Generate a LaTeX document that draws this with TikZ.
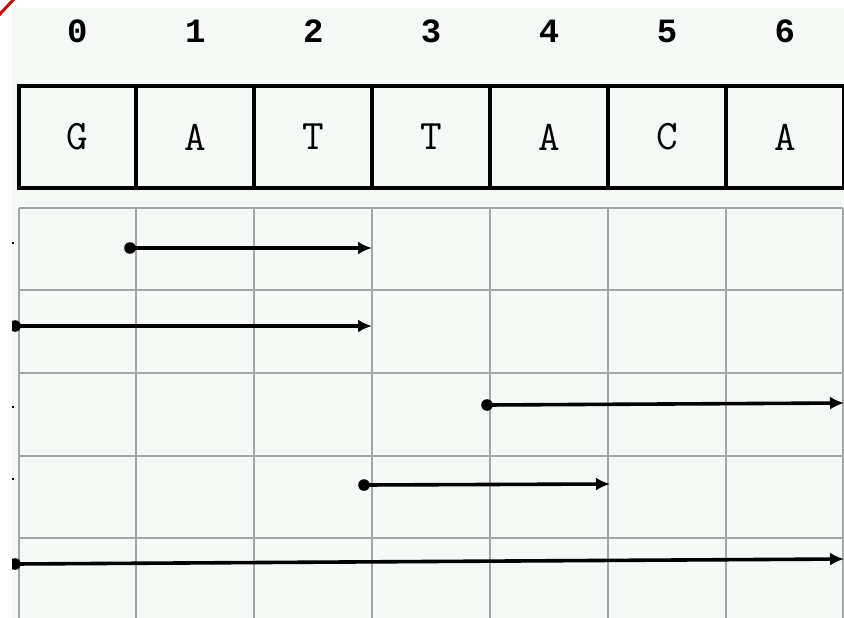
\documentclass[tikz,border=0pt]{standalone}
\usepackage{fontspec}
\newfontfamily\digitfont{Liberation Mono}
\usetikzlibrary{arrows.meta}
\definecolor{bg}{HTML}{F5FAF7}
\definecolor{gridgray}{HTML}{A4A6A5}
\definecolor{markred}{HTML}{C41010}
\begin{document}
\begin{tikzpicture}[x=1pt,y=-1pt,
  gridline/.style={draw=gridgray,line width=2pt},
  basebox/.style={draw=black,line width=4pt,minimum width=117.9pt,minimum height=102pt,inner sep=0pt,font=\ttfamily\fontsize{42}{42}\selectfont},
  idxlabel/.style={inner sep=0pt,font=\digitfont\bfseries\fontsize{34}{34}\selectfont},
  interval/.style={draw=black,line width=3.6pt,-{Latex[length=14pt,width=13pt]}},
  startdot/.style={fill=black}
]
\useasboundingbox (0,0) rectangle (844,618);
\fill[white] (0,0) rectangle (844,618);
\begin{scope}
\clip (12,8) rectangle (844,618);
\fill[bg] (12,8) rectangle (844,618);
% lower grid
\foreach \x in {18.5,136.4,254.3,372.2,490.1,608,725.9,843.3}
  \draw[gridline] (\x,208) -- (\x,620);
\foreach \y in {208,290,373,456,538}
  \draw[gridline] (18.5,\y) -- (843.3,\y);
% index labels and letter boxes
\foreach \l [count=\i from 0] in {G,A,T,T,A,C,A} {
  \pgfmathsetmacro{\cx}{18.5+117.9*\i+58.95}
  \node[idxlabel] (n\i) at (\cx,31) {\i};
  \node[basebox] (b\i) at (\cx,137) {\l};
}
% intervals
\coordinate (s1) at (130,248);  \coordinate (e1) at (372,248);
\coordinate (s2) at (15,326);   \coordinate (e2) at (372,326);
\coordinate (s3) at (487,405);  \coordinate (e3) at (844,403);
\coordinate (s4) at (364,485);  \coordinate (e4) at (610,484);
\coordinate (s5) at (15,564);   \coordinate (e5) at (844,559);
\foreach \k in {1,...,5} {
  \draw[interval] (s\k) -- (e\k);
  \fill[startdot] (s\k) circle (5.8);
}
% small edge marks
\foreach \y in {243,407,479}
  \fill[black] (12,\y-1) rectangle (13.5,\y+1);
\end{scope}
% red corner mark
\draw[markred,line width=3pt] (-1,15) -- (14,-1);
\end{tikzpicture}
\end{document}
